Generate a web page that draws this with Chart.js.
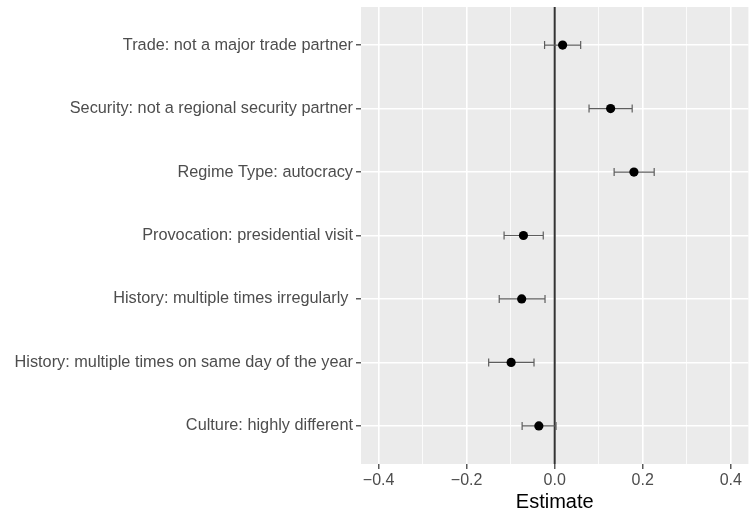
<!DOCTYPE html>
<html>
<head>
<meta charset="utf-8">
<script src="https://cdn.jsdelivr.net/npm/chart.js@4/dist/chart.umd.min.js"></script>
<style>
  html, body { margin: 0; padding: 0; background: #ffffff; overflow: hidden; }
  #wrap { width: 753px; height: 516px; }
</style>
</head>
<body>
<div id="wrap"><canvas id="chart" width="753" height="516"></canvas></div>
<script>
// Coefficient plot: point estimates with confidence intervals, one row per attribute level
const categories = [
  'Trade: not a major trade partner',
  'Security: not a regional security partner',
  'Regime Type: autocracy',
  'Provocation: presidential visit',
  'History: multiple times irregularly ',
  'History: multiple times on same day of the year',
  'Culture: highly different'
];
const estimates = [0.018, 0.127, 0.180, -0.071, -0.075, -0.099, -0.036];
const lowerCI   = [-0.023, 0.078, 0.135, -0.115, -0.126, -0.150, -0.074];
const upperCI   = [0.059, 0.176, 0.226, -0.026, -0.022, -0.047, 0.003];

const xMajorTicks  = [-0.4, -0.2, 0.0, 0.2, 0.4];
const xMajorLabels = ['\u22120.4', '\u22120.2', '0.0', '0.2', '0.4'];
const xMinorTicks  = [-0.3, -0.1, 0.1, 0.3];
const referenceLine = 0;

const isMajor = v => xMajorTicks.some(m => Math.abs(m - v) < 1e-9);

// Grey panel behind the grid
const panelBackground = {
  id: 'panelBackground',
  beforeDraw(chart) {
    const { ctx, chartArea: a } = chart;
    ctx.save();
    ctx.fillStyle = '#EBEBEB';
    ctx.fillRect(a.left, a.top, a.right - a.left, a.bottom - a.top);
    ctx.restore();
  }
};

// Zero line and interval whiskers, drawn underneath the points
const intervals = {
  id: 'intervals',
  beforeDatasetsDraw(chart) {
    const { ctx, chartArea: a, scales: { x, y } } = chart;
    ctx.save();
    const x0 = x.getPixelForValue(referenceLine);
    ctx.strokeStyle = '#333333';
    ctx.lineWidth = 2;
    ctx.beginPath();
    ctx.moveTo(x0, a.top);
    ctx.lineTo(x0, a.bottom);
    ctx.stroke();

    ctx.strokeStyle = '#5e5e5e';
    ctx.lineWidth = 1.2;
    const cap = 4;
    categories.forEach((c, i) => {
      const py = y.getPixelForValue(i + 1);
      const lo = x.getPixelForValue(lowerCI[i]);
      const hi = x.getPixelForValue(upperCI[i]);
      ctx.beginPath();
      ctx.moveTo(lo, py); ctx.lineTo(hi, py);
      ctx.moveTo(lo, py - cap); ctx.lineTo(lo, py + cap);
      ctx.moveTo(hi, py - cap); ctx.lineTo(hi, py + cap);
      ctx.stroke();
    });
    ctx.restore();
  }
};

const font = 'Liberation Sans, Arial, Helvetica, sans-serif';

new Chart(document.getElementById('chart'), {
  type: 'scatter',
  data: {
    datasets: [{
      data: estimates.map((v, i) => ({ x: v, y: i + 1 })),
      pointRadius: 4.6,
      pointBackgroundColor: '#000000',
      pointBorderColor: '#000000',
      pointBorderWidth: 0,
      showLine: false
    }]
  },
  options: {
    responsive: false,
    animation: false,
    layout: { padding: { top: 7, right: 2, left: 0, bottom: 0 } },
    plugins: { legend: { display: false }, tooltip: { enabled: false } },
    scales: {
      x: {
        type: 'linear',
        min: -0.44,
        max: 0.44,
        afterBuildTicks(scale) {
          scale.ticks = xMajorTicks.concat(xMinorTicks).sort((a, b) => a - b).map(v => ({ value: v }));
        },
        afterFit(scale) {
          scale.height = 52;
          scale.paddingLeft = 0; scale.paddingRight = 0;
        },
        border: { display: false },
        grid: {
          color: '#ffffff',
          lineWidth: ctx => isMajor(ctx.tick.value) ? 1.6 : 0.8,
          tickColor: ctx => isMajor(ctx.tick.value) ? '#333333' : 'rgba(0,0,0,0)',
          tickWidth: 1.2,
          tickLength: 5,
          drawTicks: true
        },
        ticks: {
          autoSkip: false,
          maxRotation: 0,
          padding: 2,
          color: '#4d4d4d',
          font: { family: font, size: 16 },
          callback(value) {
            const k = xMajorTicks.findIndex(m => Math.abs(m - value) < 1e-9);
            return k >= 0 ? xMajorLabels[k] : '';
          }
        },
        title: {
          display: true,
          text: 'Estimate',
          color: '#000000',
          font: { family: font, size: 20 },
          padding: { top: 0, bottom: 2 }
        }
      },
      y: {
        type: 'linear',
        reverse: true,
        min: 0.4,
        max: 7.6,
        afterBuildTicks(scale) {
          scale.ticks = categories.map((c, i) => ({ value: i + 1 }));
        },
        afterFit(scale) {
          scale.width = 361;
          scale.paddingTop = 0; scale.paddingBottom = 0;
        },
        border: { display: false },
        grid: {
          color: '#ffffff',
          lineWidth: 1.6,
          tickColor: '#333333',
          tickWidth: 1.2,
          tickLength: 5
        },
        ticks: {
          autoSkip: false,
          padding: 3,
          color: '#4d4d4d',
          font: { family: font, size: 16.3 },
          callback(value) { return categories[Math.round(value) - 1]; }
        }
      }
    }
  },
  plugins: [panelBackground, intervals]
});
</script>
</body>
</html>
